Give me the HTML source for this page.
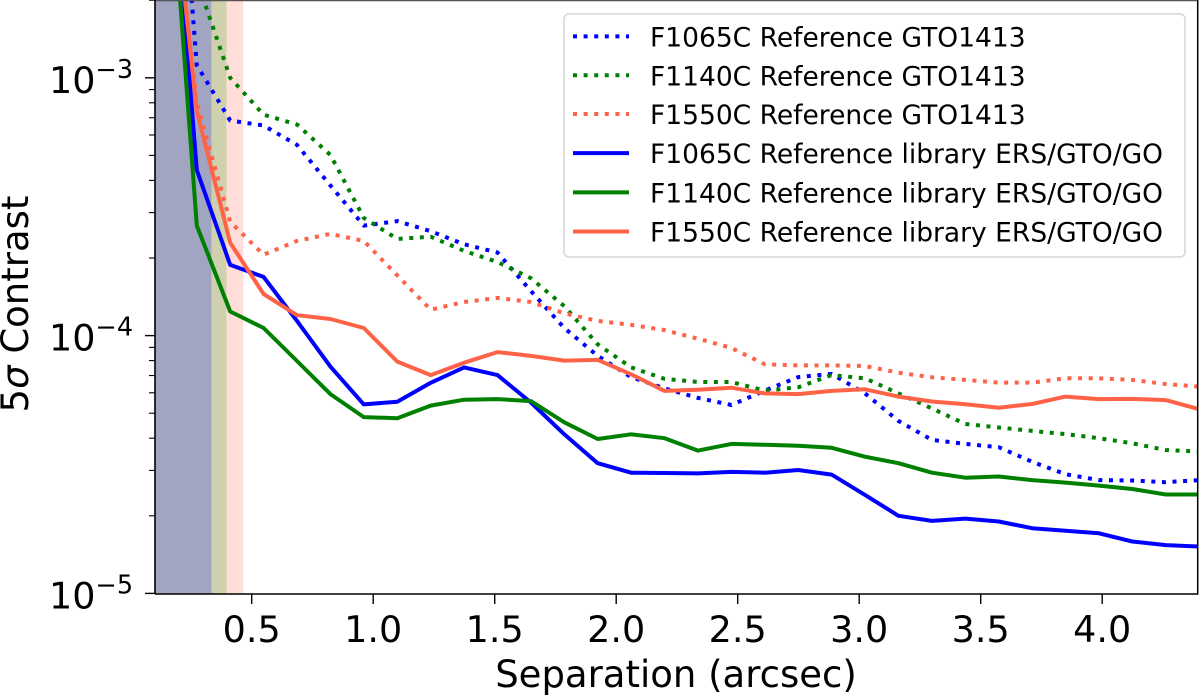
<!DOCTYPE html>
<html><head><meta charset="utf-8"><style>
html,body{margin:0;padding:0;background:#fff;}
svg{display:block;font-family:"DejaVu Sans","Liberation Sans",sans-serif;}
</style></head><body>
<svg id="chart" width="1200" height="697" viewBox="0 0 1200 697" xmlns="http://www.w3.org/2000/svg"></svg>
<script>
const separations = [];
for (let k = -1; k <= 30; k++) separations.push(+(0.274 + 0.1375 * k).toFixed(4));
const f1065Gto = [5e-2,1.12e-3,6.83e-4,6.53e-4,5.49e-4,3.82e-4,2.67e-4,2.78e-4,2.54e-4,2.26e-4,2.10e-4,1.49e-4,1.07e-4,8.34e-5,6.90e-5,6.24e-5,5.73e-5,5.38e-5,6.12e-5,6.90e-5,7.10e-5,5.97e-5,4.67e-5,3.94e-5,3.80e-5,3.69e-5,3.24e-5,2.90e-5,2.75e-5,2.74e-5,2.70e-5,2.75e-5];
const f1140Gto = [1e-2,2.4e-3,1.00e-3,7.19e-4,6.59e-4,5.02e-4,2.86e-4,2.37e-4,2.42e-4,2.13e-4,1.93e-4,1.67e-4,1.30e-4,9.25e-5,7.53e-5,6.79e-5,6.61e-5,6.61e-5,6.12e-5,6.30e-5,7.03e-5,6.83e-5,5.97e-5,5.22e-5,4.54e-5,4.40e-5,4.27e-5,4.15e-5,4.00e-5,3.82e-5,3.60e-5,3.55e-5];
const f1550Gto = [1.2e-2,8.0e-4,2.76e-4,2.06e-4,2.33e-4,2.48e-4,2.33e-4,1.71e-4,1.26e-4,1.35e-4,1.40e-4,1.35e-4,1.22e-4,1.14e-4,1.10e-4,1.05e-4,9.73e-5,8.95e-5,7.74e-5,7.66e-5,7.66e-5,7.62e-5,7.18e-5,6.89e-5,6.73e-5,6.57e-5,6.57e-5,6.83e-5,6.83e-5,6.73e-5,6.49e-5,6.34e-5];
const f1065Lib = [1.8e-2,4.39e-4,1.88e-4,1.69e-4,1.14e-4,7.58e-5,5.41e-5,5.54e-5,6.56e-5,7.53e-5,7.03e-5,5.5e-5,4.14e-5,3.20e-5,2.94e-5,2.93e-5,2.92e-5,2.96e-5,2.94e-5,3.01e-5,2.89e-5,2.41e-5,2.00e-5,1.91e-5,1.95e-5,1.90e-5,1.79e-5,1.75e-5,1.71e-5,1.59e-5,1.54e-5,1.52e-5];
const f1140Lib = [1.5e-2,2.67e-4,1.24e-4,1.07e-4,7.97e-5,5.93e-5,4.83e-5,4.78e-5,5.35e-5,5.64e-5,5.67e-5,5.57e-5,4.61e-5,3.97e-5,4.14e-5,4.00e-5,3.58e-5,3.80e-5,3.77e-5,3.74e-5,3.67e-5,3.39e-5,3.20e-5,2.94e-5,2.81e-5,2.84e-5,2.75e-5,2.69e-5,2.62e-5,2.54e-5,2.42e-5,2.42e-5];
const f1550Lib = [1.2e-2,7.44e-4,2.29e-4,1.45e-4,1.20e-4,1.16e-4,1.07e-4,7.93e-5,7.03e-5,7.85e-5,8.63e-5,8.34e-5,8.00e-5,8.05e-5,7.08e-5,6.10e-5,6.17e-5,6.28e-5,5.97e-5,5.93e-5,6.10e-5,6.19e-5,5.80e-5,5.55e-5,5.42e-5,5.25e-5,5.43e-5,5.80e-5,5.67e-5,5.68e-5,5.62e-5,5.18e-5];
const bandEdges = [0.335, 0.397, 0.465];
const xTicks = [0.5,1.0,1.5,2.0,2.5,3.0,3.5,4.0];
const xTickLabels = ["0.5","1.0","1.5","2.0","2.5","3.0","3.5","4.0"];
const yMajorExps = [-5,-4,-3];
const legendLabels = ["F1065C Reference GTO1413","F1140C Reference GTO1413","F1550C Reference GTO1413","F1065C Reference library ERS/GTO/GO","F1140C Reference library ERS/GTO/GO","F1550C Reference library ERS/GTO/GO"];

const NS = "http://www.w3.org/2000/svg";
const svg = document.getElementById("chart");
const L = 155, R = 1197.7, T = 0, B = 594;
const xMin = 0.102, xMax = 4.393;
function xs(v){ return 251.7 + (v - 0.5) * 243; }
function ys(v){ return 77.8 + (-3 - Math.log10(v)) * 257.8; }
function mk(tag, attrs, parent){ const e = document.createElementNS(NS, tag); for (const k in attrs) e.setAttribute(k, attrs[k]); (parent||svg).appendChild(e); return e; }

const defs = mk("defs", {});
const cp = mk("clipPath", {id:"plotclip"}, defs);
mk("rect", {x:L, y:T, width:R-L, height:B-T}, cp);

const bandColors = ["#a2a5c2","#cfd0ae","#ffddd8"];
const bandNames = ["band-f1065c","band-f1140c","band-f1550c"];
let prev = xMin;
for (let i = 0; i < bandEdges.length; i++) {
  const r = mk("rect", {x:xs(prev), y:T, width:xs(bandEdges[i])-xs(prev), height:B-T, fill:bandColors[i]});
  
  
  prev = bandEdges[i];
}

const series = [
  {d:f1065Gto, c:"#0000ff", dot:true, n:"line-f1065c-gto1413"},
  {d:f1140Gto, c:"#008000", dot:true, n:"line-f1140c-gto1413"},
  {d:f1550Gto, c:"#ff6347", dot:true, n:"line-f1550c-gto1413"},
  {d:f1065Lib, c:"#0000ff", dot:false, n:"line-f1065c-library"},
  {d:f1140Lib, c:"#008000", dot:false, n:"line-f1140c-library"},
  {d:f1550Lib, c:"#ff6347", dot:false, n:"line-f1550c-library"}
];
const g = mk("g", {"clip-path":"url(#plotclip)"});
series.forEach(s => {
  const pts = separations.map((x,i) => xs(x).toFixed(1) + "," + ys(s.d[i]).toFixed(1)).join(" ");
  const p = mk("polyline", {points:pts, fill:"none", stroke:s.c, "stroke-width":4, "stroke-linejoin":"round", "stroke-dasharray": s.dot ? "4 6.6" : "none"}, g);
  
  
});

mk("line", {x1:L, y1:0.5, x2:R, y2:0.5, stroke:"#555", "stroke-width":1.5});
mk("line", {x1:R, y1:0, x2:R, y2:B, stroke:"#000", "stroke-width":1.5});
const xAxis = mk("line", {x1:L, y1:B, x2:R+0.8, y2:B, stroke:"#000", "stroke-width":1.6});


const yAxis = mk("line", {x1:L, y1:0, x2:L, y2:B, stroke:"#000", "stroke-width":1.6});



xTicks.forEach((v,i) => {
  mk("line", {x1:xs(v), y1:B, x2:xs(v), y2:B+10, stroke:"#000", "stroke-width":1.4});
  const t = mk("text", {x:xs(v), y:642, "font-size":36.5, "text-anchor":"middle", fill:"#000"});
  t.textContent = xTickLabels[i];
  
  
});
yMajorExps.forEach(e => {
  const y = ys(Math.pow(10,e));
  mk("line", {x1:L-10, y1:y, x2:L, y2:y, stroke:"#000", "stroke-width":1.4});
  const t = mk("text", {x:49, y:y+15, "font-size":36.5, fill:"#000"});
  
  
  const a = mk("tspan", {}, t); a.textContent = "10";
  const b = mk("tspan", {"font-size":25.5, dy:-15}, t); b.textContent = "\u2212" + (-e);
});
for (let e = -5; e <= -3; e++) {
  for (let m = 2; m <= 9; m++) {
    const v = m * Math.pow(10, e);
    const y = ys(v);
    if (y < T || y > B) continue;
    mk("line", {x1:L-6, y1:y, x2:L, y2:y, stroke:"#000", "stroke-width":1.1});
  }
}
const xt = mk("text", {x:676, y:687, "font-size":37, "text-anchor":"middle", fill:"#000"});
xt.textContent = "Separation (arcsec)";


const yt = mk("text", {x:0, y:0, "font-size":37, "text-anchor":"middle", fill:"#000", transform:"translate(28,304) rotate(-90)"});


const y1 = mk("tspan", {}, yt); y1.textContent = "5";
const y2 = mk("tspan", {"font-style":"italic"}, yt); y2.textContent = "\u03c3";
const y3 = mk("tspan", {}, yt); y3.textContent = " Contrast";

const lg = mk("g", {});


mk("rect", {x:564, y:14, width:621, height:243, rx:5, fill:"#fff", "fill-opacity":0.85, stroke:"#d6d6d6", "stroke-width":1.5}, lg);
const rowY = [36.4, 75.3, 114, 153.1, 192.4, 231.5];
legendLabels.forEach((lab,i) => {
  const s = series[i];
  const ent = mk("g", {}, lg);
  
  
  mk("line", {x1:573, y1:rowY[i], x2:629, y2:rowY[i], stroke:s.c, "stroke-width":4, "stroke-dasharray": s.dot ? "4 6.6" : "none"}, ent);
  const t = mk("text", {x:650, y:rowY[i]+10, "font-size":26.5, fill:"#000"}, ent);
  t.textContent = lab;
});
</script>
</body></html>
